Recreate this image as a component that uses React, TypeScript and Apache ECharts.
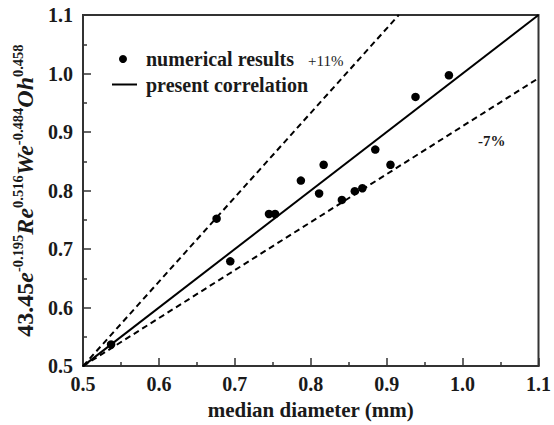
import React, { useEffect, useRef } from "react";
import * as echarts from "echarts";

// Simulated median diameters (mm) and the correlation values they map to
const diameterMm = [0.537, 0.676, 0.694, 0.745, 0.753, 0.787, 0.811, 0.817, 0.841, 0.858, 0.868, 0.885, 0.905, 0.938, 0.982];
const correlationValue = [0.537, 0.752, 0.679, 0.760, 0.760, 0.817, 0.795, 0.844, 0.784, 0.799, 0.804, 0.870, 0.844, 0.960, 0.997];

// Reference lines: the correlation itself and the +11% / -7% bounds
const correlationLine = [[0.5, 0.5], [1.1, 1.1]];
const upperBound = [[0.5, 0.5], [0.916, 1.1]];
const lowerBound = [[0.5, 0.5], [1.1, 0.992]];

const axisTicks = [0.5, 0.6, 0.7, 0.8, 0.9, 1.0, 1.1];

const FONT = "'Liberation Serif', 'Times New Roman', serif";
const INK = "#1a1a1a";

export default function App() {
  const ref = useRef<HTMLDivElement>(null);

  useEffect(() => {
    if (!ref.current) return;
    const chart = echarts.init(ref.current, null, { renderer: "svg" });

    const axisCommon = {
      type: "value" as const,
      min: axisTicks[0],
      max: axisTicks[axisTicks.length - 1],
      interval: 0.1,
      axisLine: { show: true, lineStyle: { color: "#333", width: 2 } },
      axisTick: { show: true, inside: true, length: 8, lineStyle: { color: "#333", width: 1.5 } },
      minorTick: { show: true, splitNumber: 2, length: 4, lineStyle: { color: "#333", width: 1.5 } },
      splitLine: { show: false },
      nameTextStyle: { fontFamily: FONT, fontWeight: "bold", fontSize: 21, color: INK },
    };

    const tickLabel = {
      fontFamily: FONT,
      fontWeight: "bold",
      fontSize: 20,
      color: INK,
      formatter: (v: number) => v.toFixed(1),
    };

    const sup = { fontFamily: FONT, fontWeight: "bold", fontSize: 14.5, color: INK, verticalAlign: "top" };
    const main = { fontFamily: FONT, fontWeight: "bold", fontSize: 24, color: INK, verticalAlign: "bottom", lineHeight: 27 };
    const mainItalic = { ...main, fontStyle: "italic" };

    const legendText = { font: `bold 20px ${FONT}`, fill: INK, verticalAlign: "middle" };

    chart.setOption({
      animation: false,
      backgroundColor: "#fff",
      grid: {
        left: 83,
        right: 15,
        top: 15,
        bottom: 53,
        show: true,
        borderColor: "#333",
        borderWidth: 2,
      },
      xAxis: {
        ...axisCommon,
        name: "median diameter (mm)",
        nameLocation: "middle",
        nameGap: 32,
        axisLabel: { ...tickLabel, margin: 8 },
      },
      yAxis: {
        ...axisCommon,
        name: "{a|43.45}{i|e}{s|-0.195}{i|Re}{s|0.516}{i|We}{s|-0.484}{i|Oh}{s|0.458}",
        nameLocation: "middle",
        nameRotate: 90,
        nameGap: 37,
        nameTextStyle: {
          rich: { a: main, i: mainItalic, s: sup },
        },
        axisLabel: { ...tickLabel, margin: 10 },
      },
      graphic: [
        // legend
        { type: "circle", shape: { cx: 123, cy: 59, r: 4 }, style: { fill: "#000" } },
        { type: "text", x: 146, y: 59, style: { text: "numerical results", ...legendText } },
        { type: "line", shape: { x1: 112, y1: 84.5, x2: 137, y2: 84.5 }, style: { stroke: "#000", lineWidth: 2 } },
        { type: "text", x: 146, y: 84.5, style: { text: "present correlation", ...legendText } },
        // bound annotations
        { type: "text", x: 308, y: 61, style: { text: "+11%", font: `15px ${FONT}`, fill: INK, verticalAlign: "middle" } },
        { type: "text", x: 478, y: 141, style: { text: "-7%", font: `bold 15px ${FONT}`, fill: INK, verticalAlign: "middle" } },
      ],
      series: [
        {
          name: "present correlation",
          type: "line",
          data: correlationLine,
          symbol: "none",
          lineStyle: { color: "#000", width: 2 },
          z: 3,
        },
        {
          name: "+11%",
          type: "line",
          data: upperBound,
          symbol: "none",
          lineStyle: { color: "#000", width: 2, type: [6, 4] },
          z: 3,
        },
        {
          name: "-7%",
          type: "line",
          data: lowerBound,
          symbol: "none",
          lineStyle: { color: "#000", width: 2, type: [6, 4] },
          z: 3,
        },
        {
          name: "numerical results",
          type: "scatter",
          data: diameterMm.map((d, i) => [d, correlationValue[i]]),
          symbol: "circle",
          symbolSize: 8.5,
          itemStyle: { color: "#000", opacity: 1 },
          z: 4,
        },
      ],
    });

    return () => chart.dispose();
  }, []);

  return (
    <div
      ref={ref}
      style={{ position: "absolute", left: 0, top: 0, width: 554, height: 425 }}
    />
  );
}
